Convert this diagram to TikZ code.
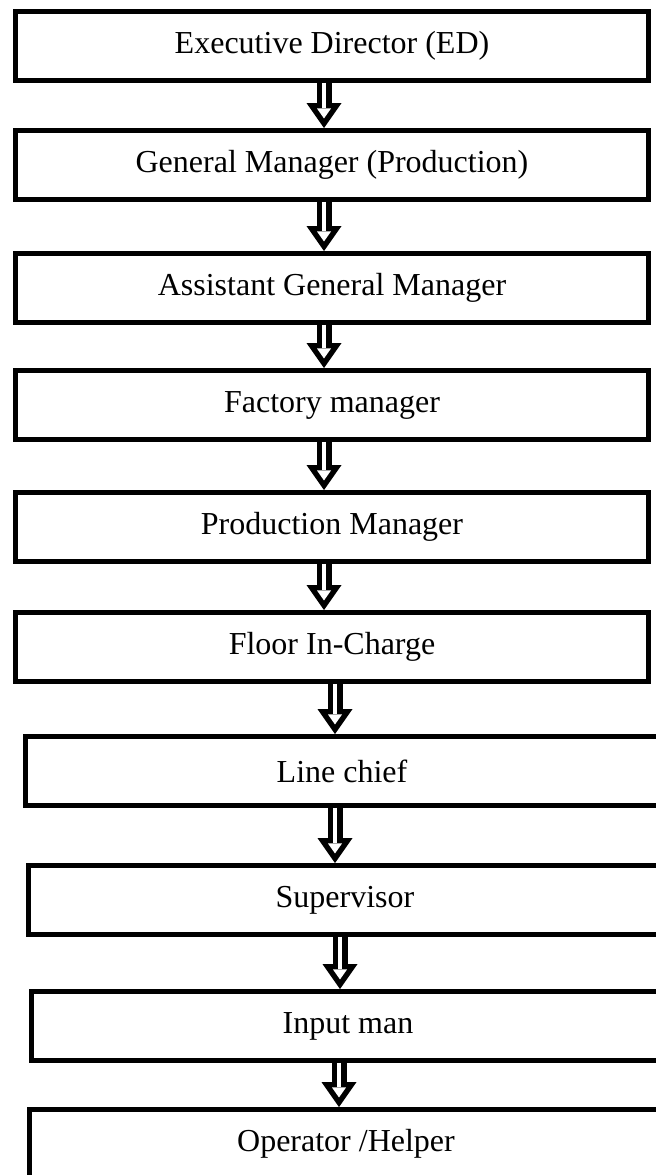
\documentclass[tikz,border=0pt]{standalone}
\usepackage{fontspec}
\setmainfont{Liberation Serif}
\usetikzlibrary{arrows.meta}
\tikzset{
postbox/.style={draw, rectangle, line width=3.4pt, minimum width=475pt, minimum height=52pt, inner sep=0pt, font=\fontsize{24}{28}\selectfont}, % one box for each post
hollow/.style={line width=11.25pt, -{Triangle[length=18.75pt, width=26.25pt, line width=0pt]},
  postaction={draw=white, line width=3pt, shorten >=7.2pt, -{Triangle[length=7.5pt, width=10.5pt, line width=0pt]}}}, % white arrow with a thick outline
}
\begin{document}
\begin{tikzpicture}[x=0.75pt, y=-0.75pt]
        \useasboundingbox (0,0) rectangle (656,1175);
        \clip (0,0) rectangle (656,1175);
        \node[postbox] at (332,46) (ed) {Executive Director (ED)};
        \node[postbox] at (332,165) (gm) {General Manager (Production)};
        \node[postbox] at (332,288) (agm) {Assistant General Manager};
        \node[postbox] at (332,405) (fm) {Factory manager};
        \node[postbox] at (332,527) (pm) {Production Manager};
        \node[postbox] at (332,647) (fic) {Floor In-Charge};
        \node[postbox] at (342,771) (lc) {Line chief};
        \node[postbox] at (345,900) (sup) {Supervisor};
        \node[postbox] at (348,1026) (im) {Input man};
        \node[postbox] at (346,1144) (oh) {Operator /Helper};
        \draw[hollow] ([xshift=-6pt]ed.south) -- ([xshift=-6pt]ed.south |- gm.north);
        \draw[hollow] ([xshift=-6pt]gm.south) -- ([xshift=-6pt]gm.south |- agm.north);
        \draw[hollow] ([xshift=-6pt]agm.south) -- ([xshift=-6pt]agm.south |- fm.north);
        \draw[hollow] ([xshift=-6pt]fm.south) -- ([xshift=-6pt]fm.south |- pm.north);
        \draw[hollow] ([xshift=-6pt]pm.south) -- ([xshift=-6pt]pm.south |- fic.north);
        \draw[hollow] ([xshift=2.25pt]fic.south) -- ([xshift=2.25pt]fic.south |- lc.north);
        \draw[hollow] ([xshift=-5.25pt]lc.south) -- ([xshift=-5.25pt]lc.south |- sup.north);
        \draw[hollow] ([xshift=-3.75pt]sup.south) -- ([xshift=-3.75pt]sup.south |- im.north);
        \draw[hollow] ([xshift=-6.75pt]im.south) -- ([xshift=-6.75pt]im.south |- oh.north);
    \end{tikzpicture}
\end{document}
